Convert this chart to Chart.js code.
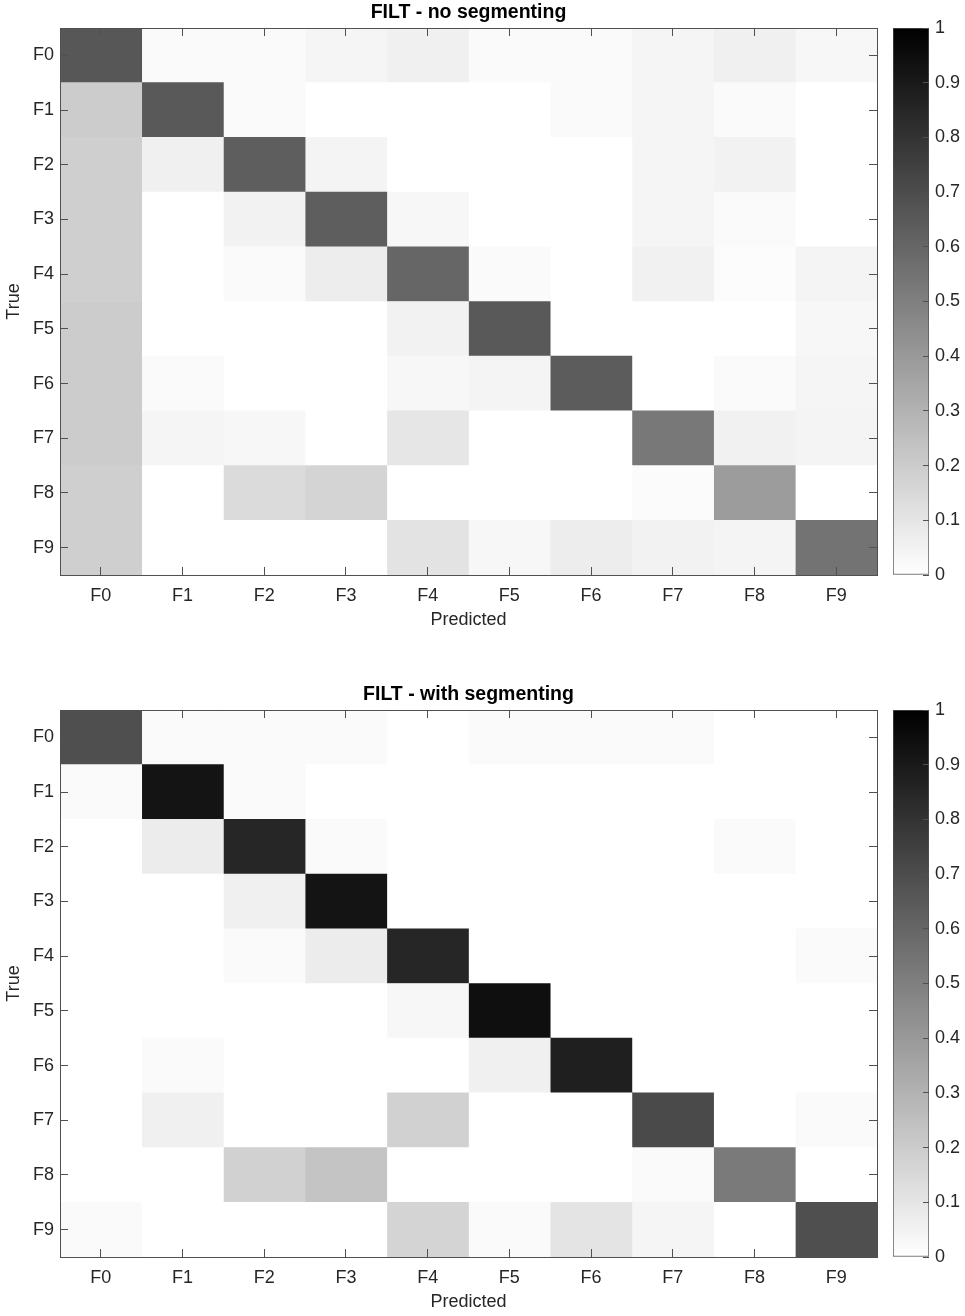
<!DOCTYPE html>
<html><head><meta charset="utf-8">
<script src="https://cdn.jsdelivr.net/npm/chart.js@4/dist/chart.umd.min.js"></script>
<style>
html,body{margin:0;padding:0;background:#fff;width:965px;height:1316px;overflow:hidden;}
.p{position:absolute;}
canvas{display:block;}
</style></head><body>
<div class="p" style="left:0;top:0;"><canvas id="h1" width="885" height="640"></canvas></div>
<div class="p" style="left:885px;top:0;"><canvas id="c1" width="80" height="640"></canvas></div>
<div class="p" style="left:0;top:682px;"><canvas id="h2" width="885" height="640"></canvas></div>
<div class="p" style="left:885px;top:682px;"><canvas id="c2" width="80" height="640"></canvas></div>
<script>
const predictedLabels = ['F0','F1','F2','F3','F4','F5','F6','F7','F8','F9'];
const trueLabels = ['F0','F1','F2','F3','F4','F5','F6','F7','F8','F9'];

// rows = True, columns = Predicted
const noSegmenting = [
  [0.66,0.02,0.02,0.04,0.06,0.02,0.02,0.04,0.06,0.03],
  [0.20,0.65,0.02,0.00,0.00,0.00,0.02,0.04,0.02,0.00],
  [0.19,0.06,0.63,0.045,0.00,0.00,0.00,0.04,0.05,0.00],
  [0.19,0.00,0.05,0.63,0.03,0.00,0.00,0.04,0.02,0.00],
  [0.19,0.00,0.02,0.07,0.60,0.02,0.00,0.055,0.01,0.045],
  [0.20,0.00,0.00,0.00,0.05,0.65,0.00,0.00,0.00,0.03],
  [0.20,0.02,0.00,0.00,0.03,0.045,0.64,0.00,0.02,0.04],
  [0.20,0.04,0.03,0.00,0.10,0.00,0.00,0.53,0.055,0.045],
  [0.19,0.00,0.14,0.17,0.00,0.00,0.00,0.015,0.39,0.00],
  [0.19,0.00,0.00,0.00,0.11,0.03,0.07,0.05,0.045,0.55]
];

const withSegmenting = [
  [0.69,0.02,0.02,0.02,0.00,0.02,0.02,0.02,0.00,0.00],
  [0.02,0.92,0.02,0.00,0.00,0.00,0.00,0.00,0.00,0.00],
  [0.00,0.075,0.85,0.02,0.00,0.00,0.00,0.00,0.02,0.00],
  [0.00,0.00,0.06,0.92,0.00,0.00,0.00,0.00,0.00,0.00],
  [0.00,0.00,0.02,0.075,0.85,0.00,0.00,0.00,0.00,0.02],
  [0.00,0.00,0.00,0.00,0.03,0.94,0.00,0.00,0.00,0.00],
  [0.00,0.02,0.00,0.00,0.00,0.06,0.88,0.00,0.00,0.00],
  [0.00,0.06,0.00,0.00,0.18,0.00,0.00,0.71,0.00,0.02],
  [0.00,0.00,0.18,0.23,0.00,0.00,0.00,0.02,0.52,0.00],
  [0.02,0.00,0.00,0.00,0.17,0.02,0.105,0.04,0.00,0.69]
];

const colorbarTicks = [0,0.1,0.2,0.3,0.4,0.5,0.6,0.7,0.8,0.9,1];

const FONT = "'Liberation Sans', Arial, Helvetica, sans-serif";
const TEXT = '#262626';
const AXIS = '#505050';

function cellColor(v){
  const g = Math.round(255 * (1 - Math.max(0, Math.min(1, v))));
  return 'rgb(' + g + ',' + g + ',' + g + ')';
}

function catAxis(position, labels, showLabels, fit, extra){
  return Object.assign({
    type: 'category', labels: labels, position: position, offset: true,
    grid: {display: true, drawOnChartArea: false, drawTicks: true, tickLength: -8, offset: false,
           color: AXIS, tickColor: AXIS, tickWidth: 1, z: 2},
    border: {display: true, color: AXIS, width: 1, z: 2},
    ticks: {display: showLabels, color: TEXT, font: {family: FONT, size: 18}, autoSkip: false, maxRotation: 0, padding: 18},
    afterFit: fit
  }, extra || {});
}

function makeHeatmap(id, matrix, title){
  const datasets = predictedLabels.map((p, j) => ({
    label: p,
    data: trueLabels.map((t, i) => ({x: [j, j + 1], y: t, v: matrix[i][j]})),
    backgroundColor: ctx => cellColor(ctx.raw ? ctx.raw.v : 0),
    borderWidth: 0,
    grouped: false,
    barPercentage: 1,
    categoryPercentage: 1,
    xAxisID: 'x', yAxisID: 'y'
  }));
  new Chart(document.getElementById(id), {
    type: 'bar',
    data: {labels: trueLabels, datasets: datasets},
    options: {
      indexAxis: 'y', responsive: false, animation: false,
      layout: {padding: 0},
      plugins: {legend: {display: false}, tooltip: {enabled: false}, title: {display: false}},
      scales: {
        x: {type: 'linear', min: 0, max: predictedLabels.length, display: false},
        y: catAxis('left', trueLabels, true, s => { s.width = 60; }, {
          ticks: {display: true, color: TEXT, font: {family: FONT, size: 18}, autoSkip: false, padding: 14},
          title: {display: true, text: 'True', color: TEXT, font: {family: FONT, size: 18}, padding: {top: 3, bottom: 0}}
        }),
        xb: catAxis('bottom', predictedLabels, true, s => { s.height = 65; }, {
          title: {display: true, text: 'Predicted', color: TEXT, font: {family: FONT, size: 18}, padding: {top: 0, bottom: 9}}
        }),
        xt: catAxis('top', predictedLabels, false, s => { s.height = 28; }, {
          title: {display: true, text: title, color: '#000', font: {family: FONT, size: 19.5, weight: 'bold'}, padding: {top: 1, bottom: 0}}
        }),
        yr: catAxis('right', trueLabels, false, s => { s.width = 8; })
      }
    }
  });
}

function makeColorbar(id){
  new Chart(document.getElementById(id), {
    type: 'bar',
    data: {labels: [''], datasets: [{
      data: [[0, 1]],
      backgroundColor: ctx => {
        const ch = ctx.chart, a = ch.chartArea;
        if (!a) return '#888';
        const g = ch.ctx.createLinearGradient(0, a.bottom, 0, a.top);
        g.addColorStop(0, '#ffffff');
        g.addColorStop(1, '#000000');
        return g;
      },
      borderColor: AXIS, borderWidth: 1, borderSkipped: false,
      barPercentage: 1, categoryPercentage: 1
    }]},
    options: {
      responsive: false, animation: false,
      layout: {padding: {top: 28, bottom: 65, left: 8, right: 0}},
      plugins: {legend: {display: false}, tooltip: {enabled: false}},
      scales: {
        x: {display: false},
        y: {
          position: 'right', min: 0, max: 1,
          afterBuildTicks: s => { s.ticks = colorbarTicks.map(v => ({value: v})); },
          afterFit: s => { s.width = 36; },
          grid: {drawOnChartArea: false, tickLength: -6, color: AXIS, tickColor: AXIS, z: 2},
          border: {display: false},
          ticks: {color: TEXT, font: {family: FONT, size: 18}, padding: 12, callback: v => String(v)}
        }
      }
    }
  });
}

makeHeatmap('h1', noSegmenting, 'FILT - no segmenting');
makeColorbar('c1');
makeHeatmap('h2', withSegmenting, 'FILT - with segmenting');
makeColorbar('c2');
</script>
</body></html>
